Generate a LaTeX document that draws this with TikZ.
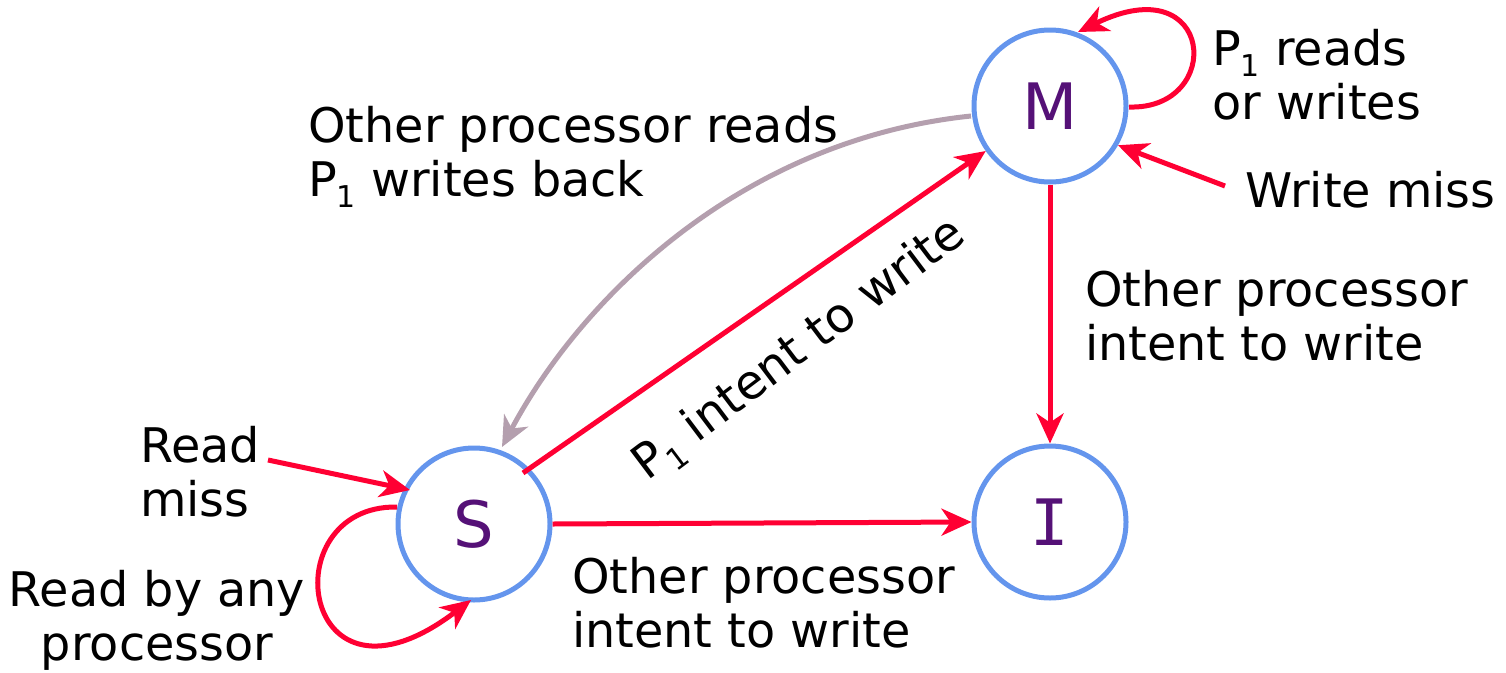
\documentclass[tikz,border=0pt]{standalone}
\usepackage{fontspec}
\setmainfont{DejaVu Sans}
\newfontfamily\monofam{DejaVu Sans Mono}
\usetikzlibrary{arrows.meta}
\definecolor{edgered}{HTML}{FF0033}
\definecolor{ringblue}{HTML}{6495ED}
\definecolor{statepurple}{HTML}{551177}
\definecolor{backgray}{HTML}{B49FAE}
\newcommand\Psub{P\raisebox{-0.22em}{\fontsize{30}{30}\selectfont 1}}
\tikzset{
  state/.style={circle, draw=ringblue, line width=5pt, minimum size=152pt, inner sep=0pt,
    text=statepurple, font=\fontsize{64}{64}\selectfont},
  edge/.style={draw=edgered, line width=5pt, -{Stealth[length=30pt,width=27pt,inset=9pt]}},
  lbl/.style={inner sep=0pt, font=\fontsize{47.7}{54}\selectfont, text=black},
}
\begin{document}
\begin{tikzpicture}[x=1pt,y=-1pt]
\useasboundingbox (0,0) rectangle (1506,672);
\node[state] (M) at (1050,106) {M};
\node[state] (S) at (474,524) {S};
\node[state] (I) at (1050,522) {\monofam I};

% free ends
\coordinate (wm) at (1225,186);
\coordinate (rm) at (268,460);

% M self loop
\draw[edge] (1129,107) .. controls (1225,110) and (1215,-35) .. (1078,32);
% write miss
\draw[edge] (wm) -- (M.-30);
% M -> I
\draw[edge] (M.south) -- (I.north);
% S -> I
\draw[edge] (S.east) -- (I.west);
% S -> M
\draw[edge] (523,473) -- (M.-145);
% M -> S (gray)
\draw[draw=backgray, line width=5pt, -{Stealth[length=30pt,width=27pt,inset=9pt]}]
  (971,116) .. controls (740,140) and (580,300) .. (502,447);
% read miss
\draw[edge] (rm) -- (410,490);
% S self loop
\draw[edge] (397,507) .. controls (270,505) and (300,730) .. (471,600);

% labels
\node[lbl, anchor=west, align=left] (l1) at (1212,75) {\Psub{} reads\\or writes};
\node[lbl, anchor=west] (l2) at (1245,190) {Write miss};
\node[lbl, anchor=west, align=left] (l3) at (308,157) {Other processor reads\\\Psub{} writes back};
\node[lbl, anchor=west, align=left] (l4) at (1085,316) {Other processor\\intent to write};
\node[lbl, rotate=37] (l5) at (800,350) {\Psub{} intent to write};
\node[lbl, anchor=west, align=left] (l6) at (140,472) {Read\\miss};
\node[lbl, align=center] (l7) at (157,620) {Read by any\\processor};
\node[lbl, anchor=west, align=left] (l8) at (572,603) {Other processor\\intent to write};
\end{tikzpicture}
\end{document}
